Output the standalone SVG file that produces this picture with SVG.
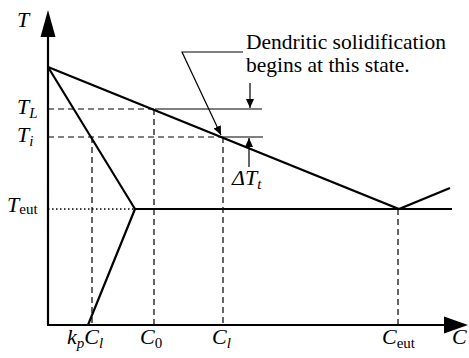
<svg xmlns="http://www.w3.org/2000/svg" width="469" height="358" viewBox="0 0 469 358">
<style>
.ln{stroke:#000;stroke-width:2.2;fill:none}
.th{stroke:#000;stroke-width:1.2;fill:none}
.ds{stroke:#000;stroke-width:1.2;fill:none;stroke-dasharray:6,4}
.dt{stroke:#000;stroke-width:1.4;fill:none;stroke-dasharray:1.5,2.5}
text{font-family:"Liberation Serif","Times New Roman","DejaVu Serif",serif;fill:#000}
.lb{font-style:italic;font-size:22px}
.sb{font-size:15px}
.si{font-size:15px;font-style:italic}
.tx{font-size:21.5px}
</style>
<defs>
<marker id="ah" markerWidth="10" markerHeight="10" refX="9" refY="4" orient="auto" markerUnits="userSpaceOnUse">
<path d="M0,0 L9,4 L0,8 Z" fill="#000"/>
</marker>
</defs>
<g id="axes">
<line class="ln" x1="48" y1="325" x2="48" y2="34"/>
<polygon points="48,10 40.5,37 55.5,37" fill="#000"/>
<line class="ln" x1="47" y1="325" x2="446" y2="325"/>
<polygon points="468,325 444,316.5 444,333.5" fill="#000"/>
</g>
<g id="guides">
<line class="ds" x1="48" y1="109" x2="155" y2="109"/>
<line class="ds" x1="48" y1="137" x2="223" y2="137"/>
<line class="dt" x1="48" y1="209" x2="135" y2="209"/>
<line class="ds" x1="92" y1="137" x2="92" y2="325"/>
<line class="ds" x1="154" y1="109" x2="154" y2="325"/>
<line class="ds" x1="223" y1="137" x2="223" y2="325"/>
<line class="ds" x1="398" y1="209" x2="398" y2="325"/>
</g>
<g id="curves">
<polyline class="ln" points="48,67 399,209 450,188"/>
<polyline class="ln" points="48,67 135,209 88,325"/>
<line class="ln" x1="135" y1="209" x2="452" y2="209"/>
</g>
<g id="connectors">
<line class="th" x1="155" y1="109" x2="262" y2="109"/>
<line class="th" x1="223" y1="137" x2="263" y2="137"/>
<line class="th" x1="250" y1="83" x2="250" y2="108" marker-end="url(#ah)"/>
<line class="th" x1="249" y1="167" x2="249" y2="138" marker-end="url(#ah)"/>
<polyline class="th" points="243,52 182,52 221,135" marker-end="url(#ah)"/>
</g>
<g id="labels">
<text class="lb" x="17" y="27">T</text>
<text class="lb" x="17" y="114">T<tspan class="si" dy="4">L</tspan></text>
<text class="lb" x="17" y="142">T<tspan class="si" dy="4">i</tspan></text>
<text class="lb" x="7" y="212">T<tspan class="sb" font-style="normal" dy="2">eut</tspan></text>
<text class="lb" x="232" y="185">ΔT<tspan class="si" dy="4">t</tspan></text>
<text class="lb" x="67" y="344">k<tspan class="si" dy="4">p</tspan><tspan dy="-4">C</tspan><tspan class="si" dy="4">l</tspan></text>
<text class="lb" x="140" y="344">C<tspan class="sb" font-style="normal" dy="4">0</tspan></text>
<text class="lb" x="212" y="344">C<tspan class="si" dy="4">l</tspan></text>
<text class="lb" x="382" y="344">C<tspan class="sb" font-style="normal" dy="4">eut</tspan></text>
<text class="lb" x="452" y="344">C</text>
<text class="tx" x="246" y="49">Dendritic solidification</text>
<text class="tx" x="246" y="72">begins at this state.</text>
</g>
</svg>
